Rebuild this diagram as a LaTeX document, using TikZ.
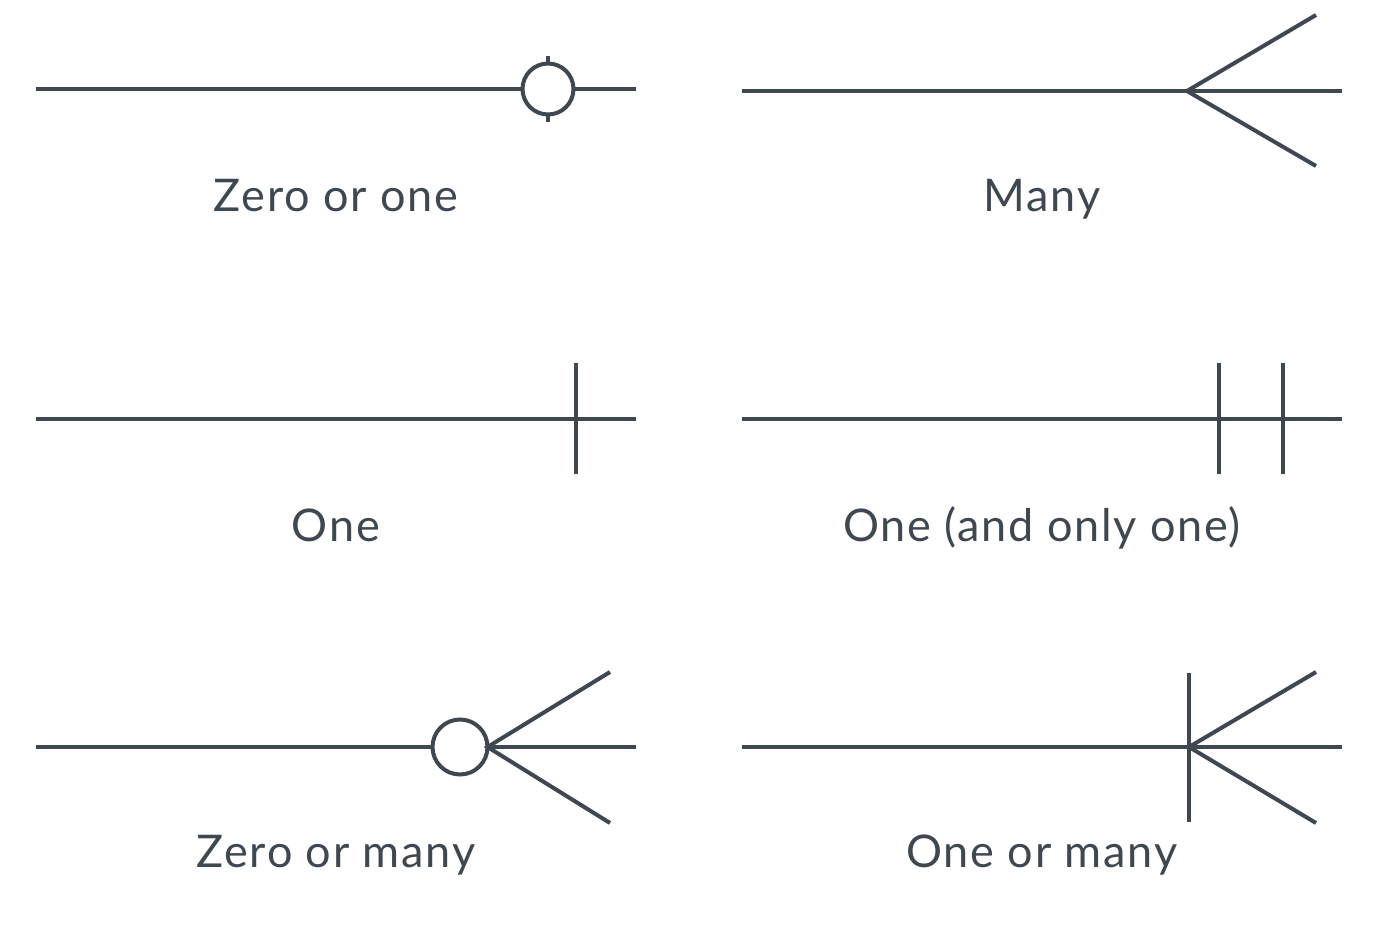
\documentclass[tikz,border=0pt]{standalone}
\usepackage{fontspec}
\setmainfont{Lato}[LetterSpace=4]
\usepackage{tikz}
\usetikzlibrary{positioning}
\definecolor{erline}{RGB}{63,71,80}
\tikzset{
	rel/.style={draw=erline, line width=4pt},
	ring/.style={circle, draw=erline, fill=white, line width=4pt, inner sep=0pt, outer sep=0pt},
	caption/.style={text=erline, font=\fontsize{45}{45}\selectfont, anchor=base, inner sep=0pt},
}
\begin{document}
\begin{tikzpicture}[x=1pt, y=-1pt]
	\useasboundingbox (0,0) rectangle (1390,928);
\begin{scope}[shift={(36,89)}]
	\coordinate (zo-l) at (0,0);
	\coordinate (zo-r) at (600,0);
	\coordinate (zo-t) at (512,-33);
	\coordinate (zo-b) at (512,33);
	\draw[rel] (zo-l) -- (zo-r);
	\draw[rel] (zo-t) -- (zo-b);
	\node[ring, minimum size=51pt] (zo-c) at (512,0) {};
	\node[caption] (zo-txt) at (300,123) {Zero or one};
\end{scope}
\begin{scope}[shift={(742,91)}]
	\coordinate (ma-l) at (0,0);
	\coordinate (ma-r) at (600,0);
	\coordinate (ma-a) at (445,0);
	\coordinate (ma-up) at (574,-76);
	\coordinate (ma-dn) at (574,75);
	\draw[rel] (ma-l) -- (ma-r);
	\draw[rel] (ma-up) -- (ma-a) -- (ma-dn);
	\node[caption] (ma-txt) at (300,121) {Many};
\end{scope}
\begin{scope}[shift={(36,419)}]
	\coordinate (on-l) at (0,0);
	\coordinate (on-r) at (600,0);
	\coordinate (on-t) at (540,-56);
	\coordinate (on-b) at (540,55);
	\draw[rel] (on-l) -- (on-r);
	\draw[rel] (on-t) -- (on-b);
	\node[caption] (on-txt) at (300,122) {One};
\end{scope}
\begin{scope}[shift={(742,419)}]
	\coordinate (oo-l) at (0,0);
	\coordinate (oo-r) at (600,0);
	\coordinate (oo-t1) at (477,-56);
	\coordinate (oo-b1) at (477,55);
	\coordinate (oo-t2) at (541,-56);
	\coordinate (oo-b2) at (541,55);
	\draw[rel] (oo-l) -- (oo-r);
	\draw[rel] (oo-t1) -- (oo-b1);
	\draw[rel] (oo-t2) -- (oo-b2);
	\node[caption] (oo-txt) at (300,122) {One (and only one)};
\end{scope}
\begin{scope}[shift={(36,747)}]
	\coordinate (zm-l) at (0,0);
	\coordinate (zm-r) at (600,0);
	\coordinate (zm-up) at (574,-75);
	\coordinate (zm-dn) at (574,76);
	\draw[rel] (zm-l) -- (zm-r);
	\node[ring, minimum size=55pt] (zm-c) at (424,0) {};
	\draw[rel] (zm-up) -- (zm-c.east) -- (zm-dn);
	\node[caption] (zm-txt) at (300,120) {Zero or many};
\end{scope}
\begin{scope}[shift={(742,747)}]
	\coordinate (om-l) at (0,0);
	\coordinate (om-r) at (600,0);
	\coordinate (om-a) at (447,0);
	\coordinate (om-t) at (447,-74);
	\coordinate (om-b) at (447,75);
	\coordinate (om-up) at (574,-75);
	\coordinate (om-dn) at (574,76);
	\draw[rel] (om-l) -- (om-r);
	\draw[rel] (om-t) -- (om-b);
	\draw[rel] (om-up) -- (om-a) -- (om-dn);
	\node[caption] (om-txt) at (300,120) {One or many};
\end{scope}
\end{tikzpicture}
\end{document}
